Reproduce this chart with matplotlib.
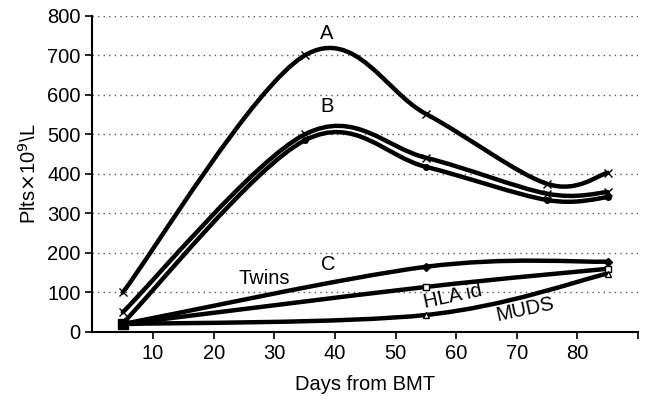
import matplotlib
matplotlib.use('Agg')
import matplotlib.pyplot as plt
from matplotlib.path import Path
from matplotlib.patches import PathPatch

plt.rcParams['font.family'] = ['Liberation Sans', 'DejaVu Sans']

# values (platelets x10^9/L vs days from BMT)
days_ab = [5, 35, 55, 75, 85]
a_vals = [100, 700, 552, 375, 403]
b_upper = [50, 500, 441, 350, 354]
b_lower = [22, 485, 418, 334, 341]

days_c = [5, 55, 85]
twins = [20, 165, 178]
hla_id = [20, 114, 160]
muds = [20, 43, 148]

x_ticks = [10, 20, 30, 40, 50, 60, 70, 80]
y_ticks = [0, 100, 200, 300, 400, 500, 600, 700, 800]


def smooth_path(xs, ys):
    # Excel-like smoothed line: cubic bezier through the points
    pts = list(zip(xs, ys))
    verts = [pts[0]]
    codes = [Path.MOVETO]
    n = len(pts)
    for i in range(n - 1):
        p0 = pts[i - 1] if i > 0 else pts[i]
        p1 = pts[i]
        p2 = pts[i + 1]
        p3 = pts[i + 2] if i + 2 < n else pts[i + 1]
        c1 = (p1[0] + (p2[0] - p0[0]) / 6, p1[1] + (p2[1] - p0[1]) / 6)
        c2 = (p2[0] - (p3[0] - p1[0]) / 6, p2[1] - (p3[1] - p1[1]) / 6)
        verts += [c1, c2, p2]
        codes += [Path.CURVE4] * 3
    return Path(verts, codes)


fig = plt.figure(figsize=(6.48, 3.99), dpi=100)
ax = fig.add_axes([0.1427, 0.168, 0.842, 0.792])

for ys, xs in [(a_vals, days_ab), (b_upper, days_ab), (b_lower, days_ab),
               (twins, days_c), (hla_id, days_c), (muds, days_c)]:
    ax.add_patch(PathPatch(smooth_path(xs, ys), facecolor='none',
                           edgecolor='black', lw=3.2, capstyle='round',
                           joinstyle='round', zorder=3))

ax.plot(days_ab, a_vals, 'x', color='black', ms=6, mew=1, zorder=4)
ax.plot(days_ab, b_upper, 'x', color='black', ms=6, mew=1, zorder=4)
ax.plot(days_ab, b_lower, 'o', color='black', ms=4, zorder=4)
ax.plot(days_c, twins, 'D', color='black', ms=4, zorder=4)
ax.plot(days_c, hla_id, 's', color='black', mfc='white', ms=5, mew=1, zorder=4)
ax.plot(days_c, muds, '^', color='black', mfc='white', ms=5, mew=1, zorder=4)
# the three low curves start together in a filled square
ax.plot(days_c[:1], hla_id[:1], 's', color='black', ms=7, zorder=5)

ax.text(38.7, 755, 'A', fontsize=14.5, ha='center', va='center')
ax.text(38.7, 570, 'B', fontsize=14.5, ha='center', va='center')
ax.text(38.9, 170, 'C', fontsize=14.5, ha='center', va='center')
ax.text(28.3, 135, 'Twins', fontsize=14.5, ha='center', va='center')
ax.text(59.5, 89, 'HLA id', fontsize=14.5, ha='center', va='center', rotation=12)
ax.text(71.4, 56, 'MUDS', fontsize=14.5, ha='center', va='center', rotation=12)

ax.set_xlim(0, 90)
ax.set_ylim(0, 800)
ax.set_xticks(x_ticks + [90])
ax.set_xticklabels([str(t) for t in x_ticks] + [''])
ax.set_yticks(y_ticks)
ax.tick_params(labelsize=14.5, width=1.2, length=5, color='black')
for t in y_ticks[1:]:
    ax.axhline(t, color='#555555', lw=1, ls=(0, (1, 3)), zorder=1)

ax.spines['top'].set_visible(False)
ax.spines['right'].set_visible(False)
ax.spines['left'].set_linewidth(1.5)
ax.spines['bottom'].set_linewidth(1.5)

ax.set_xlabel('Days from BMT', fontsize=14.5, labelpad=9)
ax.set_ylabel('Plts$\\times$10$^{9}$\\L', fontsize=14.5, labelpad=5)

fig.savefig('out.png', dpi=100)
